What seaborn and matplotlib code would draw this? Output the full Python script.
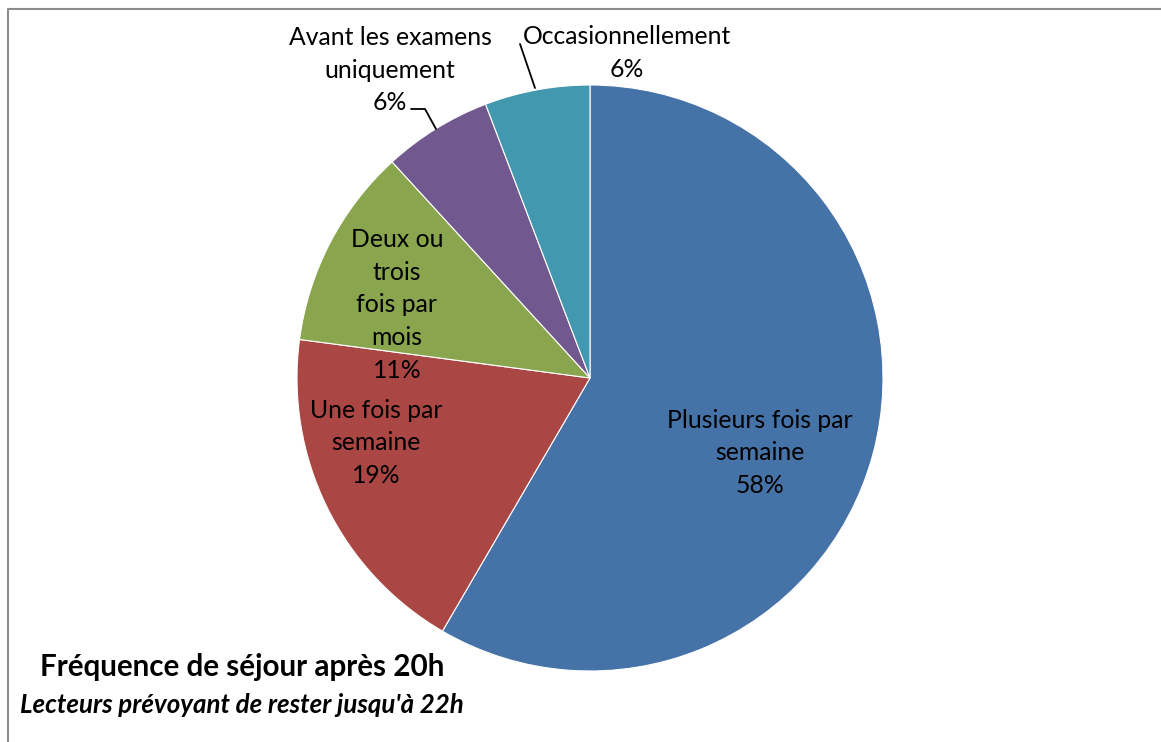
import matplotlib
matplotlib.use("Agg")
import matplotlib.pyplot as plt
import seaborn as sns

# slice values (percent), clockwise from 12 o'clock
categories = ["Plusieurs fois par semaine", "Une fois par semaine",
              "Deux ou trois fois par mois", "Avant les examens uniquement",
              "Occasionnellement"]
values = [58.4, 18.7, 11.1, 6.0, 5.8]
pct_labels = ["58%", "19%", "11%", "6%", "6%"]
label_lines = ["Plusieurs fois par\nsemaine", "Une fois par\nsemaine",
               "Deux ou\ntrois\nfois par\nmois", "Avant les examens\nuniquement",
               "Occasionnellement"]

colors = ["#4572A7", "#AA4643", "#89A54E", "#71588F", "#4198AF"]

sns.set_theme(style="white")
plt.rcParams['font.family'] = ['Lato', 'DejaVu Sans']

W, H = 1161, 742
fig = plt.figure(figsize=(W / 100, H / 100), dpi=100)
ax = fig.add_axes([0, 0, 1, 1])


def py(y):
    # pixel row -> data y
    return H - y


pal = sns.color_palette(colors)
ax.pie(values, colors=pal, startangle=90, counterclock=False,
       center=(590, py(378)), radius=293, frame=True,
       wedgeprops=dict(edgecolor="white", linewidth=0.8))
ax.set_xlim(0, W)
ax.set_ylim(0, H)
ax.set_aspect("equal")
ax.axis("off")

# outer frame (runs off right and bottom)
ax.plot([8, 8, W + 5], [py(H + 5), py(9), py(9)], color="#8c8c8c", lw=1.5,
        solid_capstyle="butt")

fs = 17.8
ls = 1.52
# label positions in pixels (center x, center y)
pos = [(760, 453), (376, 443), (397, 305), (390, 70), (627, 53)]
for (x, y), lab, p in zip(pos, label_lines, pct_labels):
    ax.text(x, py(y), lab + "\n" + p, ha="center", va="center",
            fontsize=fs, linespacing=ls, color="black")

# leader lines
ax.plot([411, 425, 436], [py(109), py(109), py(129)], color="black", lw=1.3)
ax.plot([520, 535], [py(44), py(88)], color="black", lw=1.3)

ax.text(40, py(667), "Fréquence de séjour après 20h", ha="left", va="center",
        fontsize=21.3, fontweight="bold", color="black")
ax.text(20, py(705), "Lecteurs prévoyant de rester jusqu'à 22h", ha="left",
        va="center", fontsize=18.6, fontweight="bold", fontstyle="italic",
        color="black")

fig.savefig("out.png", dpi=100)
